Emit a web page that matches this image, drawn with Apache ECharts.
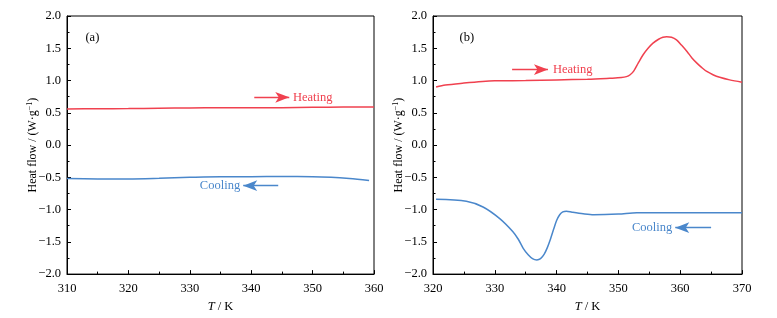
<!DOCTYPE html>
<html><head><meta charset="utf-8">
<script src="https://cdn.jsdelivr.net/npm/echarts@6/dist/echarts.min.js"></script>
<style>html,body{margin:0;padding:0;background:#fff}#c{width:777px;height:318px}</style>
</head><body><div id="c"></div>
<script>
// Panel (a)
const aHeatT = [310, 315, 320, 325, 330, 335, 340, 345, 350, 355, 360];
const aHeat  = [0.56, 0.562, 0.565, 0.57, 0.575, 0.58, 0.58, 0.58, 0.585, 0.588, 0.59];
const aCoolT = [310, 315, 320, 325, 330, 335, 340, 345, 350, 353, 356, 359.2];
const aCool  = [-0.52, -0.525, -0.525, -0.515, -0.50, -0.49, -0.49, -0.488, -0.49, -0.50, -0.52, -0.55];
// Panel (b)
const bHeatT = [320.5, 322, 325, 328, 330, 335, 340, 345, 348.6, 350.5, 351.3, 351.9, 352.5, 353.2, 354.0, 354.8, 355.6, 356.5, 357.2, 357.8, 358.6, 359.4, 360.2, 361.1, 361.9, 362.7, 363.5, 364.3, 365.3, 366.4, 368, 370];
const bHeat  = [0.90, 0.93, 0.96, 0.985, 0.995, 1.0, 1.01, 1.02, 1.035, 1.045, 1.06, 1.09, 1.15, 1.27, 1.40, 1.50, 1.58, 1.64, 1.67, 1.68, 1.67, 1.63, 1.55, 1.45, 1.35, 1.27, 1.20, 1.14, 1.09, 1.05, 1.01, 0.975];
const bCoolT = [320.5, 325.4, 328.1, 330.8, 332.9, 333.8, 334.6, 335.4, 336.1, 336.8, 337.4, 338.0, 338.5, 339.0, 339.5, 340.0, 340.5, 341.0, 341.6, 342.5, 344.3, 346, 350, 353, 360, 370];
const bCool  = [-0.84, -0.87, -0.96, -1.14, -1.34, -1.46, -1.60, -1.70, -1.76, -1.78, -1.76, -1.69, -1.59, -1.46, -1.31, -1.17, -1.08, -1.035, -1.025, -1.04, -1.065, -1.08, -1.07, -1.05, -1.05, -1.05];

const xTicksA = {min: 310, max: 360, interval: 10};
const xTicksB = {min: 320, max: 370, interval: 10};
const yTicks = {min: -2, max: 2, interval: 0.5};

const RED = '#f0414f', BLUE = '#4a87cb';
const FONT = 'Liberation Serif';

function pairs(xs, ys){ return xs.map((x,i)=>[x, ys[i]]); }
function fmtY(v){ return (v < 0 ? '\u2212' : '') + Math.abs(v).toFixed(1); }

function xAxis(idx, t){
  return {
    type:'value', gridIndex: idx, min:t.min, max:t.max, interval:t.interval,
    axisLine:{show:true, onZero:false, lineStyle:{color:'#000', width:1}},
    axisTick:{show:true, inside:true, length:4, lineStyle:{color:'#000'}},
    minorTick:{show:true, splitNumber:2, length:2.5, lineStyle:{color:'#000'}},
    splitLine:{show:false},
    axisLabel:{color:'#000', fontFamily:FONT, fontSize:12.5, margin:8},
    name:'{i|T} / K', nameLocation:'middle', nameGap:18,
    nameTextStyle:{color:'#000', fontFamily:FONT, fontSize:12.5,
      rich:{i:{fontStyle:'italic', fontFamily:FONT, fontSize:12.5, color:'#000'}}}
  };
}
function yAxis(idx){
  return {
    type:'value', gridIndex: idx, min:yTicks.min, max:yTicks.max, interval:yTicks.interval,
    axisLine:{show:true, onZero:false, lineStyle:{color:'#000', width:1}},
    axisTick:{show:true, inside:true, length:4, lineStyle:{color:'#000'}},
    minorTick:{show:true, splitNumber:2, length:2.5, lineStyle:{color:'#000'}},
    splitLine:{show:false},
    axisLabel:{color:'#000', fontFamily:FONT, fontSize:12.5, margin:6, formatter:fmtY},
    name:'Heat flow / (W\u00b7g{s|\u22121})', nameLocation:'middle', nameGap:27, nameMoveOverlap:false,
    nameTextStyle:{color:'#000', fontFamily:FONT, fontSize:12,
      rich:{s:{fontSize:8, fontFamily:FONT, color:'#000', verticalAlign:'top', padding:[0,0,6,0]}}}
  };
}
function arrow(x1, x2, y, color){
  return {
    silent:true, animation:false, label:{show:false},
    lineStyle:{color:color, width:1.3, type:'solid'},
    symbolSize:[8,14],
    data:[[{coord:[x1,y], symbol:'none'},{coord:[x2,y], symbol:'arrow'}]]
  };
}
function texts(items){
  return {
    silent:true, animation:false,
    data: items.map(it=>({coord:[it.x,it.y], value:it.t, symbol:'circle', symbolSize:0,
      itemStyle:{color:'rgba(0,0,0,0)'},
      label:{show:true, position:it.pos, distance:0, formatter:it.t, color:it.c,
        fontFamily:FONT, fontSize:12.5}}))
  };
}

const chart = echarts.init(document.getElementById('c'), null, {renderer:'canvas'});
chart.setOption({
  animation:false,
  backgroundColor:'#fff',
  grid:[
    {left:67, top:16, width:307, height:260, show:true, borderColor:'#000', borderWidth:1, backgroundColor:'transparent'},
    {left:433, top:16, width:309, height:260, show:true, borderColor:'#000', borderWidth:1, backgroundColor:'transparent'}
  ],
  xAxis:[xAxis(0, xTicksA), xAxis(1, xTicksB)],
  yAxis:[yAxis(0), yAxis(1)],
  series:[
    {type:'line', xAxisIndex:0, yAxisIndex:0, data:pairs(aHeatT,aHeat), showSymbol:false, smooth:0.3,
     lineStyle:{color:RED, width:1.5}, itemStyle:{color:RED},
     markLine:arrow(340.5, 346.2, 0.74, RED),
     markPoint:texts([{x:346.8, y:0.74, t:'Heating', c:RED, pos:'right'},{x:313.0, y:1.66, t:'(a)', c:'#000', pos:'right'}])},
    {type:'line', xAxisIndex:0, yAxisIndex:0, data:pairs(aCoolT,aCool), showSymbol:false, smooth:0.3,
     lineStyle:{color:BLUE, width:1.5}, itemStyle:{color:BLUE},
     markLine:arrow(344.4, 338.7, -0.63, BLUE),
     markPoint:texts([{x:338.2, y:-0.63, t:'Cooling', c:BLUE, pos:'left'}])},
    {type:'line', xAxisIndex:1, yAxisIndex:1, data:pairs(bHeatT,bHeat), showSymbol:false, smooth:0.3,
     lineStyle:{color:RED, width:1.5}, itemStyle:{color:RED},
     markLine:arrow(332.8, 338.6, 1.17, RED),
     markPoint:texts([{x:339.4, y:1.17, t:'Heating', c:RED, pos:'right'},{x:324.3, y:1.66, t:'(b)', c:'#000', pos:'right'}])},
    {type:'line', xAxisIndex:1, yAxisIndex:1, data:pairs(bCoolT,bCool), showSymbol:false, smooth:0.3,
     lineStyle:{color:BLUE, width:1.5}, itemStyle:{color:BLUE},
     markLine:arrow(365.0, 359.2, -1.28, BLUE),
     markPoint:texts([{x:358.7, y:-1.28, t:'Cooling', c:BLUE, pos:'left'}])}
  ]
});
</script></body></html>
